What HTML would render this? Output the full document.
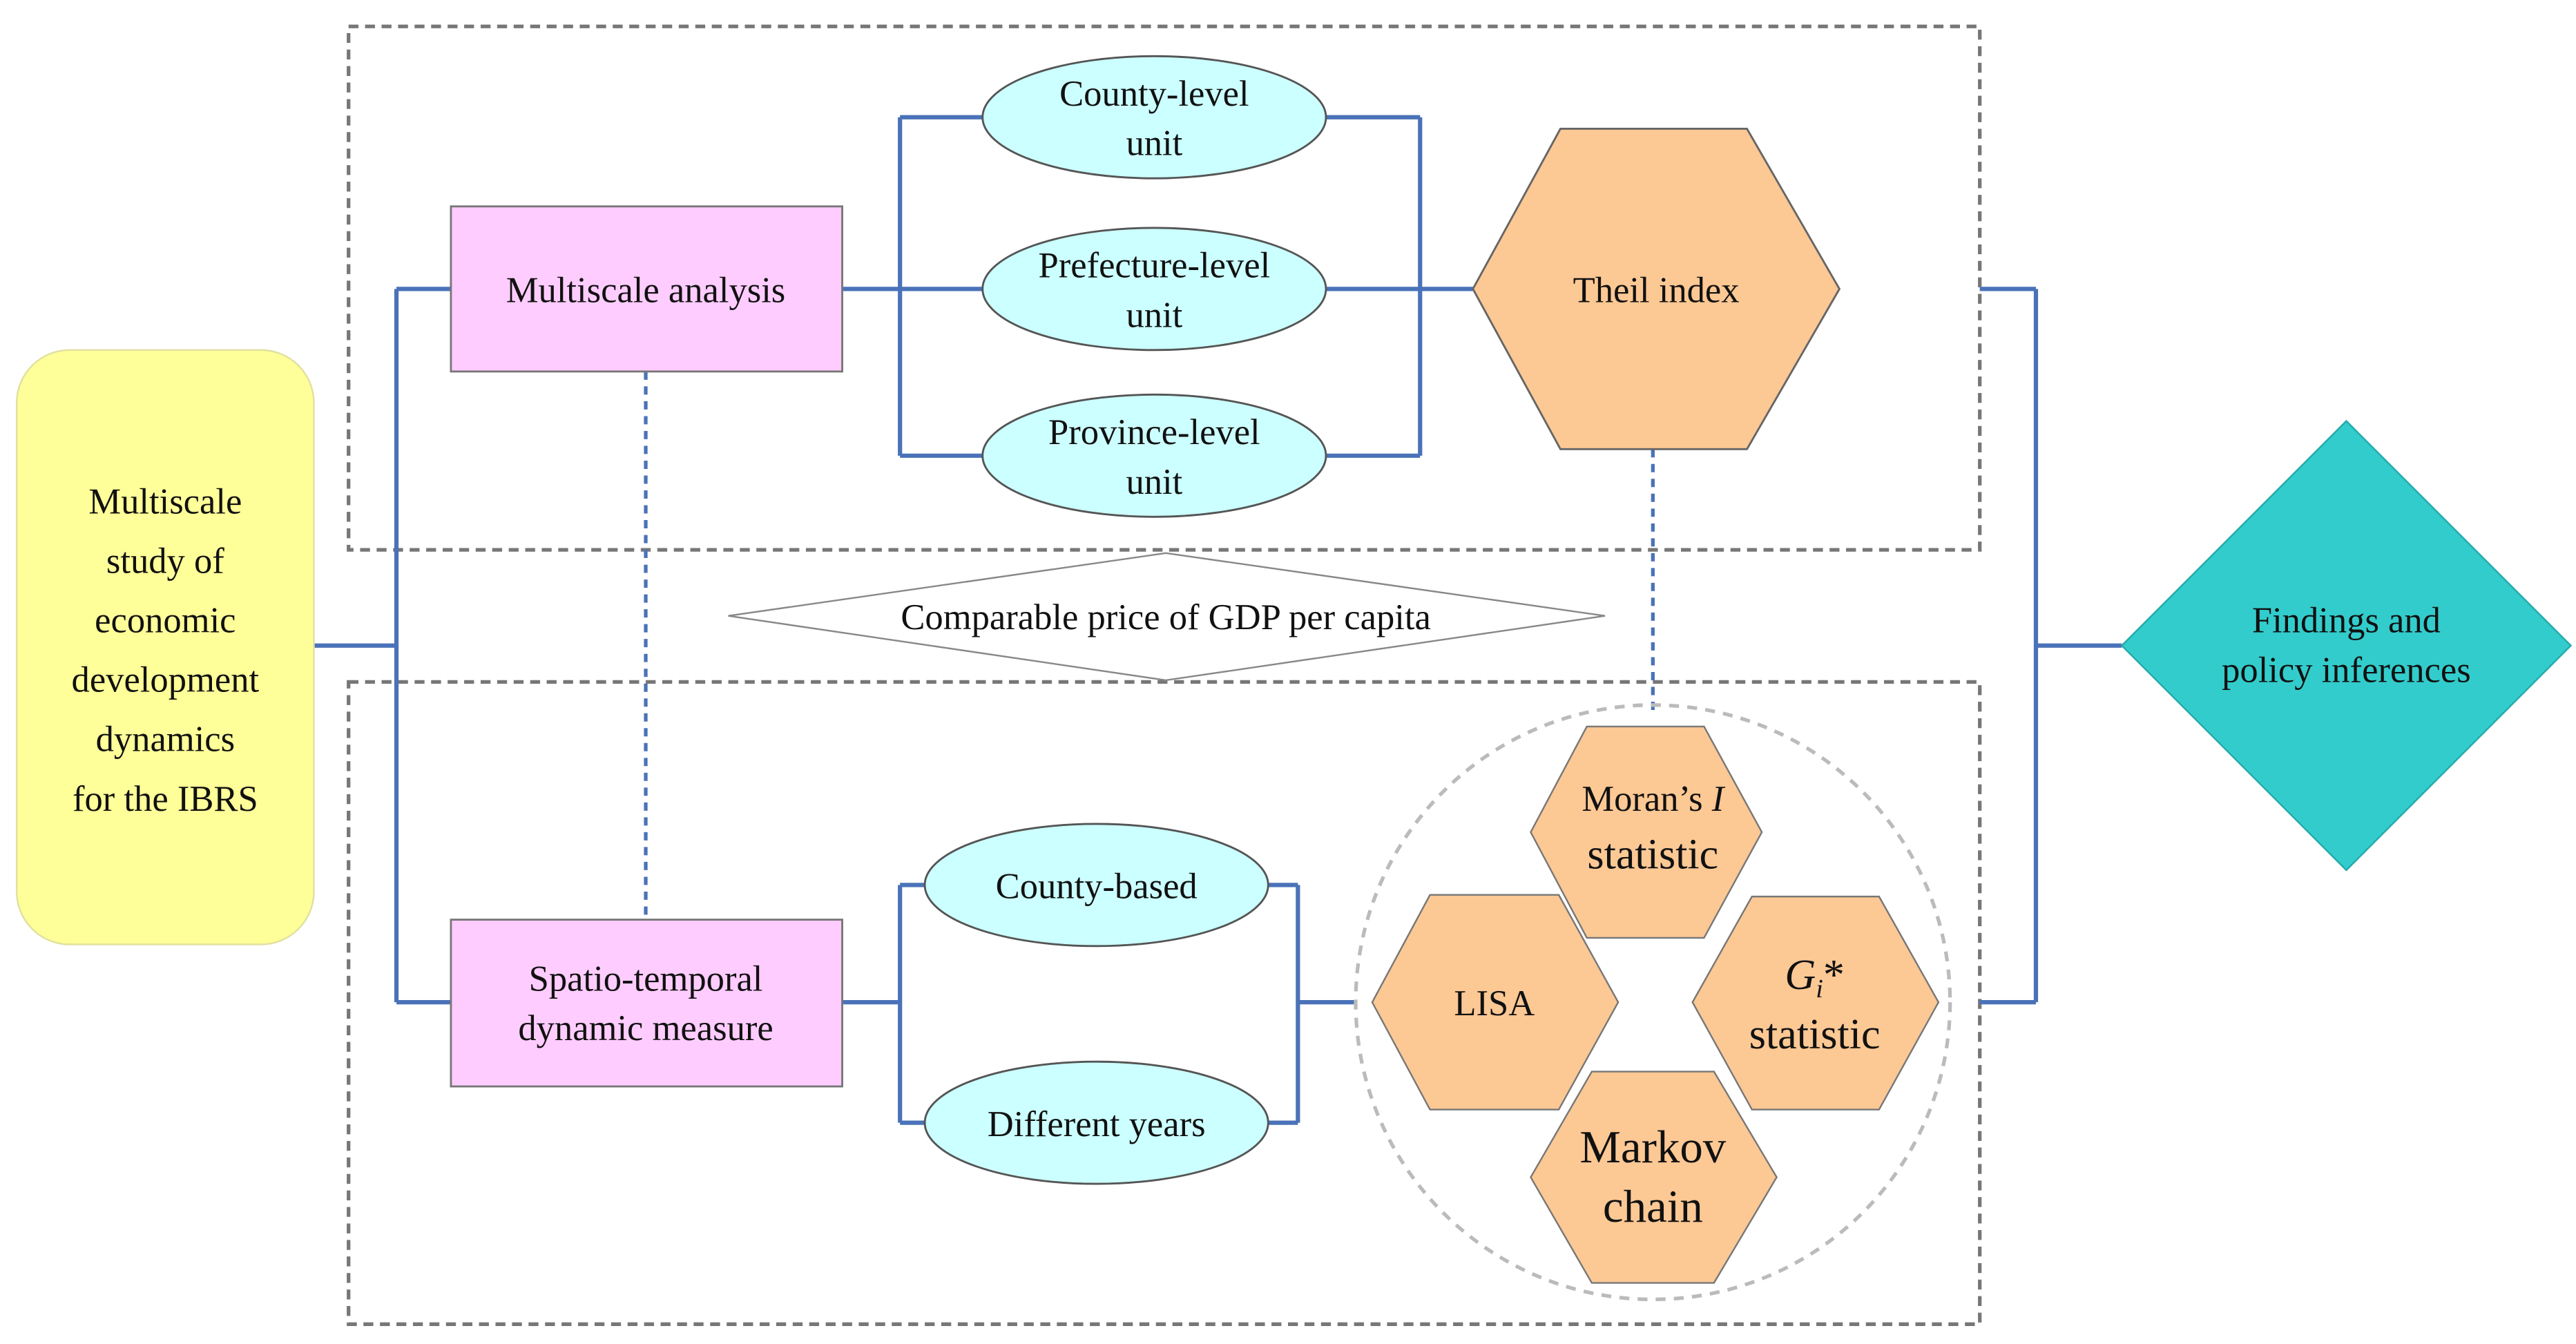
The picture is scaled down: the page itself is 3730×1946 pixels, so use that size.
<!DOCTYPE html>
<html><head><meta charset="utf-8"><style>html,body{margin:0;padding:0;background:#fff}svg{display:block}</style></head>
<body>
<svg width="3730" height="1946" viewBox="0 0 1560 814" xmlns="http://www.w3.org/2000/svg" font-family="Liberation Serif, serif" fill="#111">
<rect x="0" y="0" width="1560" height="814" fill="#fff"/>
<!-- dashed group boxes -->
<rect x="211" y="16" width="988" height="317" fill="none" stroke="#777" stroke-width="2.2" stroke-dasharray="6,4"/>
<rect x="211" y="413" width="988" height="389" fill="none" stroke="#777" stroke-width="2.2" stroke-dasharray="6,4"/>
<!-- connectors -->
<g stroke="#4a72b8" stroke-width="2.6" fill="none">
<path d="M190 391H240M240 175V607M240 175H273M240 607H273"/>
<path d="M510 175H545M545 71V276M545 71H595M545 175H595M545 276H595"/>
<path d="M803 71H860M803 175H860M803 276H860M860 71V276M860 175H892"/>
<path d="M510 607H545M545 536V680M545 536H560M545 680H560"/>
<path d="M768 536H786M768 680H786M786 536V680M786 607H822"/>
<path d="M1199 175H1233M1199 607H1233M1233 175V607M1233 391H1285"/>
</g>
<g stroke="#4a72b8" stroke-width="2.2" stroke-dasharray="5,4" fill="none">
<path d="M391 225V557M1001 272V430"/>
</g>
<!-- yellow -->
<rect x="10" y="212" width="180" height="360" rx="32" fill="#ffff99" stroke="#e0e0a0" stroke-width="1"/>
<g font-size="22" text-anchor="middle">
<text x="100" y="311">Multiscale</text>
<text x="100" y="347">study of</text>
<text x="100" y="383">economic</text>
<text x="100" y="419">development</text>
<text x="100" y="455">dynamics</text>
<text x="100" y="491">for the IBRS</text>
</g>
<!-- pink boxes -->
<rect x="273" y="125" width="237" height="100" fill="#ffccff" stroke="#777" stroke-width="1.2"/>
<rect x="273" y="557" width="237" height="101" fill="#ffccff" stroke="#777" stroke-width="1.2"/>
<g font-size="22" text-anchor="middle">
<text x="391" y="183">Multiscale analysis</text>
<text x="391" y="600">Spatio-temporal</text>
<text x="391" y="630">dynamic measure</text>
</g>
<!-- ellipses -->
<g fill="#ccffff" stroke="#555" stroke-width="1.2">
<ellipse cx="699" cy="71" rx="104" ry="37"/>
<ellipse cx="699" cy="175" rx="104" ry="37"/>
<ellipse cx="699" cy="276" rx="104" ry="37"/>
<ellipse cx="664" cy="536" rx="104" ry="37"/>
<ellipse cx="664" cy="680" rx="104" ry="37"/>
</g>
<g font-size="22" text-anchor="middle">
<text x="699" y="64">County-level</text><text x="699" y="94">unit</text>
<text x="699" y="168">Prefecture-level</text><text x="699" y="198">unit</text>
<text x="699" y="269">Province-level</text><text x="699" y="299">unit</text>
<text x="664" y="544">County-based</text>
<text x="664" y="688">Different years</text>
</g>
<!-- Theil hex -->
<polygon points="892,175 945,78 1058,78 1114,175 1058,272 945,272" fill="#fcc894" stroke="#666" stroke-width="1.2"/>
<text x="1003" y="183" font-size="22" text-anchor="middle">Theil index</text>
<!-- diamond -->
<polygon points="441,373 706,335 972,373 706,412" fill="#fff" stroke="#888" stroke-width="1"/>
<text x="706" y="381" font-size="22" text-anchor="middle">Comparable price of GDP per capita</text>
<!-- circle -->
<circle cx="1001" cy="607" r="180" fill="none" stroke="#bbb" stroke-width="2.2" stroke-dasharray="6,5"/>
<g fill="#fcc894" stroke="#777" stroke-width="1">
<polygon points="927,504 961,440 1032,440 1067,504 1032,568 961,568"/>
<polygon points="831,607 866,542 944,542 980,607 944,672 866,672"/>
<polygon points="1025,607 1061,543 1138,543 1174,607 1138,672 1061,672"/>
<polygon points="927,713 964,649 1038,649 1076,713 1038,777 964,777"/>
</g>
<g text-anchor="middle">
<text x="1001" y="491" font-size="22">Moran’s <tspan font-style="italic">I</tspan></text>
<text x="1001" y="526" font-size="26">statistic</text>
<text x="905" y="615" font-size="22">LISA</text>
<text x="1099" y="599" font-size="26"><tspan font-style="italic">G<tspan font-size="16" dy="5">i</tspan></tspan><tspan dy="-5">*</tspan></text>
<text x="1099" y="635" font-size="26">statistic</text>
<text x="1001" y="704" font-size="28">Markov</text>
<text x="1001" y="740" font-size="28">chain</text>
</g>
<!-- teal diamond -->
<polygon points="1285,391 1421,255 1557,391 1421,527" fill="#33cccc" stroke="#2aa" stroke-width="1"/>
<g font-size="22" text-anchor="middle">
<text x="1421" y="383">Findings and</text>
<text x="1421" y="413">policy inferences</text>
</g>
</svg>
</body></html>
